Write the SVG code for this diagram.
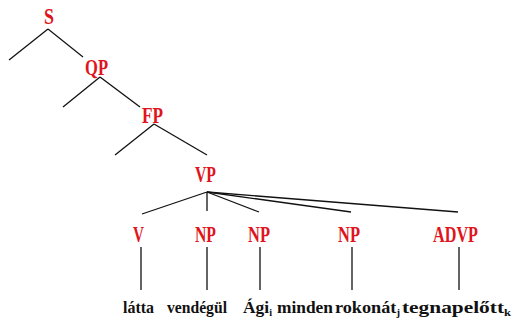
<svg xmlns="http://www.w3.org/2000/svg" width="513" height="320" viewBox="0 0 513 320">
<style>
.lbl{font-family:"Liberation Serif","DejaVu Serif",serif;font-weight:bold;font-size:23px;fill:#e0141c}
.w{font-family:"Liberation Serif","DejaVu Serif",serif;font-weight:bold;font-size:17px;fill:#111}
.sub{font-size:10px}
.e{stroke:#111;stroke-width:1.3;fill:none}
</style>
<rect width="513" height="320" fill="#fff"/>
<g id="connectors" class="e">
<line x1="48" y1="29" x2="9" y2="60"/>
<line x1="48" y1="29" x2="83" y2="57"/>
<line x1="100" y1="77" x2="63" y2="107"/>
<line x1="100" y1="77" x2="140" y2="107"/>
<line x1="154" y1="124" x2="115" y2="155"/>
<line x1="154" y1="124" x2="207" y2="155"/>
<line x1="207" y1="192" x2="142" y2="214"/>
<line x1="207" y1="192" x2="207" y2="211"/>
<line x1="207" y1="192" x2="259" y2="212"/>
<line x1="207" y1="192" x2="351" y2="212"/>
<line x1="207" y1="192" x2="458" y2="212"/>
<line x1="141" y1="247" x2="141" y2="290"/>
<line x1="207" y1="247" x2="207" y2="290"/>
<line x1="260" y1="247" x2="260" y2="290"/>
<line x1="352" y1="247" x2="352" y2="290"/>
<line x1="459" y1="247" x2="459" y2="290"/>
</g>
<g id="S"><text class="lbl" x="44" y="24" textLength="10" lengthAdjust="spacingAndGlyphs">S</text></g>
<g id="QP"><text class="lbl" x="85" y="75" textLength="23" lengthAdjust="spacingAndGlyphs">QP</text></g>
<g id="FP"><text class="lbl" x="142" y="123" textLength="21" lengthAdjust="spacingAndGlyphs">FP</text></g>
<g id="VP"><text class="lbl" x="195" y="182" textLength="21" lengthAdjust="spacingAndGlyphs">VP</text></g>
<g id="V"><text class="lbl" x="133" y="242" textLength="11" lengthAdjust="spacingAndGlyphs">V</text></g>
<g id="NP1"><text class="lbl" x="195" y="242" textLength="21" lengthAdjust="spacingAndGlyphs">NP</text></g>
<g id="NP2"><text class="lbl" x="248" y="242" textLength="22" lengthAdjust="spacingAndGlyphs">NP</text></g>
<g id="NP3"><text class="lbl" x="338" y="242" textLength="22" lengthAdjust="spacingAndGlyphs">NP</text></g>
<g id="ADVP"><text class="lbl" x="433" y="242" textLength="45" lengthAdjust="spacingAndGlyphs">ADVP</text></g>
<g id="words">
<text class="w" x="123" y="313" textLength="31" lengthAdjust="spacingAndGlyphs">látta</text>
<text class="w" x="167" y="313" textLength="60" lengthAdjust="spacingAndGlyphs">vendégül</text>
<text class="w" x="243" y="313" textLength="29" lengthAdjust="spacingAndGlyphs">Ági<tspan class="sub" dy="3">i</tspan></text>
<text class="w" x="277" y="313" textLength="56" lengthAdjust="spacingAndGlyphs">minden</text>
<text class="w" x="335" y="313" textLength="65" lengthAdjust="spacingAndGlyphs">rokonát<tspan class="sub" dy="3">j</tspan></text>
<text class="w" x="402" y="313" textLength="109" lengthAdjust="spacingAndGlyphs">tegnapelőtt<tspan class="sub" dy="3">k</tspan></text>
</g>
</svg>
